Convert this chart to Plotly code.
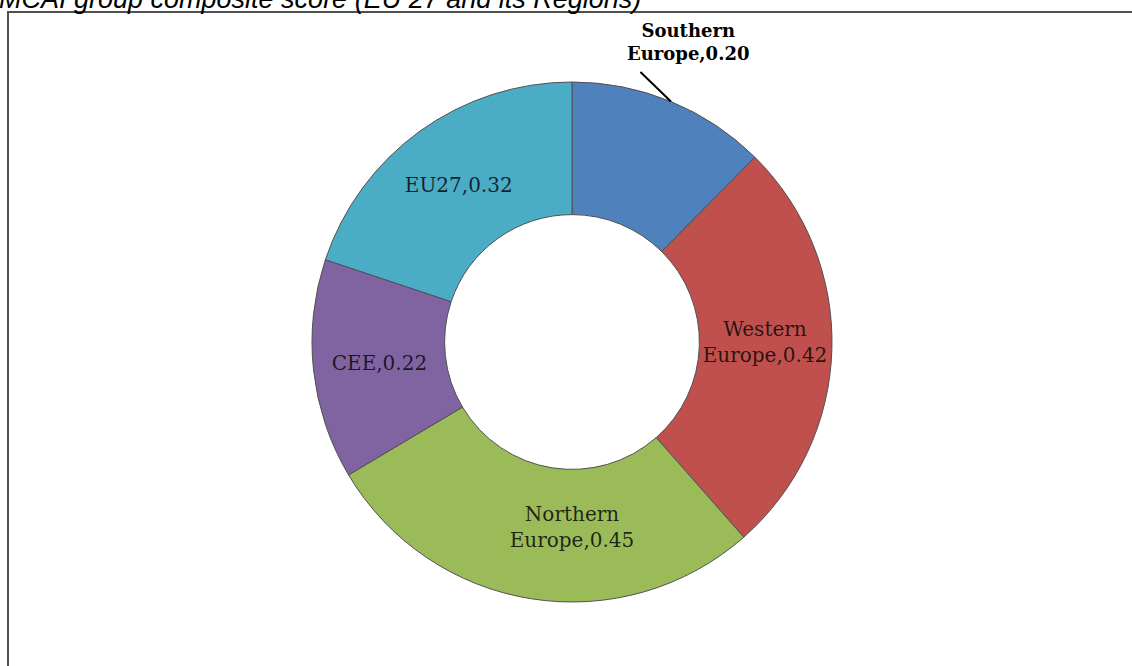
import math
import plotly.graph_objects as go

# ---- data ----
regions = ["Southern<br>Europe", "Western<br>Europe", "Northern<br>Europe", "CEE", "EU27"]
scores = [0.20, 0.42, 0.45, 0.22, 0.32]
colors = ["#4F81BD", "#C0504D", "#9BBB59", "#8064A2", "#4BACC6"]
title_text = "MCAI group composite score (EU 27 and its Regions)"

W, H = 1132, 666
cx, cy, R = 572, 342, 260  # pixel centre/radius of the donut
hole = 0.49

dom_x = [(cx - R) / W, (cx + R) / W]
dom_y = [(H - cy - R) / H, (H - cy + R) / H]

texts = []
for lab, v in zip(regions, scores):
    texts.append("" if lab.startswith("Southern") else f"{lab},{v:.2f}")

fig = go.Figure(go.Pie(
    labels=regions,
    values=scores,
    text=texts,
    textinfo="text",
    textposition="inside",
    insidetextorientation="horizontal",
    sort=False,
    direction="clockwise",
    rotation=0,
    hole=hole,
    marker=dict(colors=colors, line=dict(color="#505050", width=1)),
    textfont=dict(family="DejaVu Serif", size=20, color="rgba(10,10,10,0.85)"),
    domain=dict(x=dom_x, y=dom_y),
    showlegend=False,
    hoverinfo="label+value",
))

# leader line + outside label for Southern Europe (bisector of its slice)
total = sum(scores)
mid_frac = (scores[0] / 2) / total
ang = 2 * math.pi * mid_frac
tip_px = (cx + R * math.sin(ang), cy - R * math.cos(ang))
fig.add_annotation(
    x=tip_px[0] / W, y=1 - tip_px[1] / H, xref="paper", yref="paper",
    text="", showarrow=True, arrowhead=0, arrowwidth=2, arrowcolor="black",
    ax=-32, ay=-31,
)
fig.add_annotation(
    x=688 / W, y=1 - 42 / H, xref="paper", yref="paper",
    text=f"<b>Southern<br>Europe,{scores[0]:.2f}</b>", showarrow=False,
    font=dict(family="DejaVu Serif", size=18, color="black"),
    xanchor="center", yanchor="middle",
)

# title (partly cut off at top in the reference)
fig.add_annotation(
    x=-2 / W, y=1 - 15 / H, xref="paper", yref="paper",
    text=f"<i>{title_text}</i>", showarrow=False,
    font=dict(family="Liberation Sans, Arial", size=27, color="black"),
    xanchor="left", yanchor="bottom", borderpad=0,
)

# chart frame
fig.add_shape(
    type="rect", xref="paper", yref="paper",
    x0=8 / W, x1=1.02, y0=-0.02, y1=1 - 12 / H,
    line=dict(color="#505050", width=2), fillcolor="rgba(0,0,0,0)",
)

fig.update_layout(
    width=W, height=H,
    margin=dict(l=0, r=0, t=0, b=0),
    paper_bgcolor="white", plot_bgcolor="white",
    uniformtext=dict(minsize=20, mode="show"),
)

fig.write_html("out.html", config={"displayModeBar": False},
               post_script="document.body.style.margin='0px';")
